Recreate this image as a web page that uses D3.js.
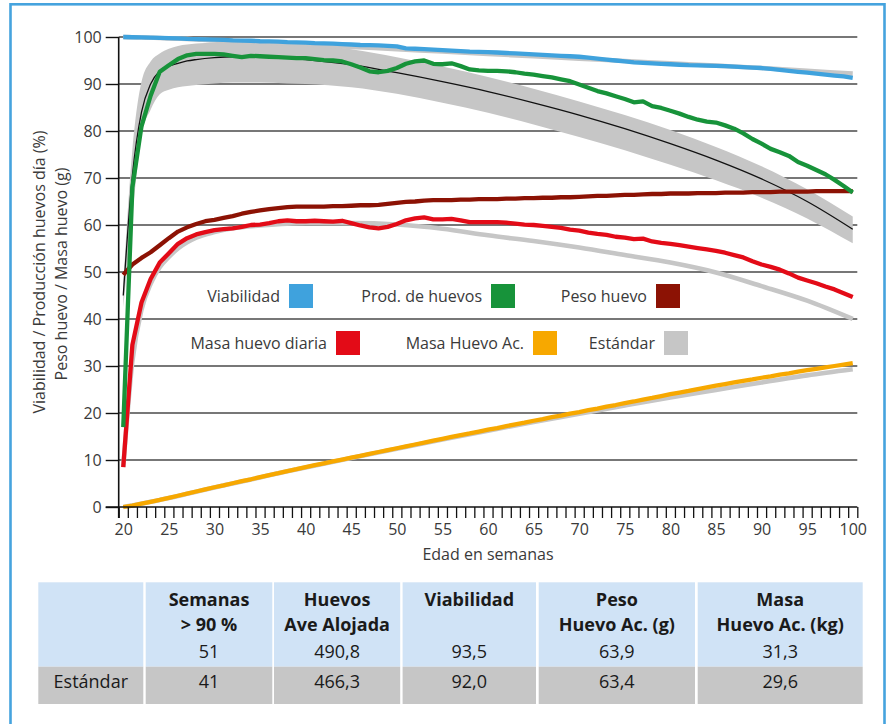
<!DOCTYPE html>
<html>
<head>
<meta charset="utf-8">
<script src="https://cdn.jsdelivr.net/npm/d3@7/dist/d3.min.js"></script>
<style>
  body { margin: 0; background: #fff; }
  svg { display: block; }
  text { font-family: "Open Sans", "Noto Sans", sans-serif; }
</style>
</head>
<body>
<svg id="chart" width="891" height="724"></svg>
<script>
// ---- data: weekly flock results (age in weeks) ----
const weeks = [20,21,22,23,24,25,26,27,28,29,30,31,32,33,34,35,36,37,38,39,40,
  41,42,43,44,45,46,47,48,49,50,51,52,53,54,55,56,57,58,59,60,
  61,62,63,64,65,66,67,68,69,70,71,72,73,74,75,76,77,78,79,80,
  81,82,83,84,85,86,87,88,89,90,91,92,93,94,95,96,97,98,99,100];

const viabilidad = [100.0,99.95,99.9,99.85,99.8,99.75,99.7,99.6,99.55,99.5,99.45,
  99.4,99.3,99.25,99.2,99.1,99.05,99.0,98.9,98.85,98.8,
  98.7,98.65,98.6,98.5,98.4,98.3,98.25,98.2,98.1,98.0,
  97.6,97.5,97.4,97.3,97.2,97.1,97.0,96.9,96.85,96.8,
  96.7,96.6,96.5,96.4,96.3,96.2,96.1,96.0,95.9,95.8,
  95.6,95.4,95.2,95.0,94.8,94.6,94.5,94.4,94.3,94.2,
  94.1,94.0,93.95,93.9,93.85,93.8,93.7,93.6,93.5,93.4,
  93.2,93.0,92.8,92.6,92.4,92.2,92.0,91.8,91.6,91.3];

const prodHuevos = [17.0,68.0,81.0,87.5,92.6,94.0,95.3,96.1,96.4,96.4,96.4,
  96.3,96.0,95.7,96.0,95.9,95.8,95.7,95.6,95.5,95.5,
  95.3,95.1,95.0,94.8,94.2,93.5,92.7,92.5,92.8,93.4,
  94.3,94.8,95.0,94.3,94.2,94.4,93.8,93.1,92.9,92.8,
  92.8,92.7,92.5,92.2,92.0,91.7,91.4,91.0,90.6,89.9,
  89.2,88.5,88.0,87.4,86.8,86.1,86.3,85.3,84.9,84.3,
  83.7,83.0,82.4,82.0,81.8,81.2,80.5,79.5,78.3,77.3,
  76.2,75.5,74.7,73.4,72.6,71.7,70.8,69.6,68.3,66.9];

const pesoHuevo = [49.4,51.6,53.0,54.2,55.7,57.2,58.6,59.5,60.2,60.8,61.1,
  61.5,61.9,62.4,62.8,63.1,63.4,63.6,63.8,63.9,63.9,
  63.9,63.9,64.0,64.0,64.1,64.2,64.2,64.3,64.5,64.7,
  64.9,65.0,65.2,65.3,65.3,65.3,65.4,65.4,65.5,65.5,
  65.5,65.6,65.6,65.7,65.7,65.8,65.8,65.9,65.9,66.0,
  66.1,66.2,66.2,66.3,66.4,66.4,66.5,66.6,66.6,66.7,
  66.7,66.7,66.8,66.8,66.8,66.9,66.9,66.9,67.0,67.0,
  67.0,67.1,67.1,67.1,67.1,67.2,67.2,67.2,67.2,67.2];

const masaDiaria = [8.5,34.5,43.5,48.5,52.0,54.0,56.0,57.2,58.0,58.5,58.9,
  59.1,59.3,59.6,60.0,60.1,60.4,60.8,61.0,60.8,60.8,
  60.9,60.8,60.7,60.9,60.4,59.9,59.5,59.3,59.6,60.2,
  61.0,61.4,61.6,61.2,61.2,61.3,61.0,60.6,60.6,60.6,
  60.6,60.5,60.3,60.1,60.0,59.8,59.6,59.4,59.0,58.8,
  58.4,58.1,57.9,57.5,57.3,57.0,57.1,56.5,56.2,56.0,
  55.7,55.4,55.1,54.8,54.5,54.1,53.6,53.1,52.3,51.6,
  51.1,50.5,49.7,48.8,48.2,47.6,46.9,46.3,45.5,44.7];

const masaAcumulada = [0.0,0.3,0.7,1.1,1.5,1.95,2.4,2.85,3.3,3.75,4.2,
  4.6,5.05,5.5,5.9,6.35,6.8,7.2,7.65,8.05,8.5,
  8.9,9.3,9.7,10.1,10.5,10.9,11.3,11.7,12.1,12.5,
  12.9,13.3,13.7,14.1,14.5,14.9,15.3,15.65,16.05,16.45,
  16.8,17.2,17.6,17.95,18.35,18.7,19.1,19.45,19.85,20.2,
  20.6,20.95,21.35,21.7,22.1,22.45,22.85,23.2,23.6,24.0,
  24.35,24.7,25.1,25.45,25.8,26.15,26.5,26.85,27.15,27.5,
  27.8,28.15,28.45,28.8,29.1,29.4,29.7,30.0,30.3,30.6];

// ---- breed standard (reference curves) ----
const stdWeeks = [20,21,22,23,24,25,26,27,28,30,32,35,38,40,45,50,55,60,65,70,75,80,85,90,95,100];
const stdViabilidad = [100.0,99.95,99.9,99.85,99.8,99.7,99.65,99.6,99.5,99.3,99.2,98.9,98.6,98.4,97.9,97.4,96.9,96.4,95.9,95.4,94.9,94.4,93.9,93.4,92.8,92.2];
const stdProd    = [45.0,70.5,84.0,90.0,92.8,93.8,94.4,94.9,95.2,95.6,95.8,95.8,95.5,95.2,94.1,92.4,90.5,88.4,86.0,83.4,80.5,77.3,73.8,69.8,65.0,59.1];
const stdProdMax = [47.5,76.0,90.5,94.8,96.5,97.5,98.1,98.4,98.6,98.9,99.1,99.1,98.8,98.5,97.4,95.7,93.7,91.5,89.0,86.3,83.4,80.2,76.6,72.5,67.6,61.8];
const stdProdMin = [42.5,62.0,79.0,84.5,87.8,88.8,89.3,89.6,89.8,90.1,90.3,90.3,90.1,90.0,89.3,87.9,86.0,83.9,81.4,78.7,75.9,72.8,69.5,65.8,61.4,56.1];
const stdMasaDiaria = [8.5,31.0,42.0,47.5,51.0,53.2,55.0,56.3,57.3,58.5,59.3,59.9,60.3,60.4,60.4,60.1,59.2,57.8,56.6,55.2,53.6,52.0,49.9,47.0,43.9,40.0];
const stdMasaAcumulada = [0.0,0.3,0.7,1.1,1.5,1.9,2.35,2.8,3.25,4.15,5.0,6.3,7.6,8.4,10.4,12.4,14.35,16.25,18.1,19.85,21.6,23.3,24.9,26.5,28.0,29.3];

// ---- axes ----
const yTicks = [0,10,20,30,40,50,60,70,80,90,100];
const xTickLabels = [20,25,30,35,40,45,50,55,60,65,70,75,80,85,90,95,100];
const yTitle = ["Viabilidad / Producción huevos día (%)", "Peso huevo / Masa huevo (g)"];
const xTitle = "Edad en semanas";

// ---- legend ----
const legendNames  = ["Viabilidad","Prod. de huevos","Peso huevo","Masa huevo diaria","Masa Huevo Ac.","Estándar"];
const legendColors = ["#3fa2dd","#17933a","#8c1204","#e30b17","#f7a800","#c6c6c6"];

// ---- summary table ----
const tableHead = [["",""],["Semanas","> 90 %"],["Huevos","Ave Alojada"],["Viabilidad",""],["Peso","Huevo Ac. (g)"],["Masa","Huevo Ac. (kg)"]];
const tableFlock = ["","51","490,8","93,5","63,9","31,3"];
const tableStd   = ["Estándar","41","466,3","92,0","63,4","29,6"];

// ================= drawing =================
const svg = d3.select("#chart");
const C = { blue: legendColors[0], green: legendColors[1], darkred: legendColors[2],
            red: legendColors[3], orange: legendColors[4], grey: legendColors[5] };

// frame
svg.append("rect").attr("x", 10.5).attr("y", 4.3).attr("width", 874).attr("height", 760)
  .attr("fill", "none").attr("stroke", "#45a3de").attr("stroke-width", 2.6);

const x = d3.scaleLinear().domain([19.5, 100.5]).range([118.7, 857.3]);
const y = d3.scaleLinear().domain([0, 100]).range([507, 37]);

// horizontal grid
svg.append("g").selectAll("line").data(yTicks.filter(d => d > 0)).join("line")
  .attr("x1", x(19.5)).attr("x2", x(100.5))
  .attr("y1", d => y(d)).attr("y2", d => y(d))
  .attr("stroke", "#4a4a4a").attr("stroke-width", 1.3);

// standard production band + centre line
svg.append("path")
  .datum(stdWeeks.map((w, i) => ({ w, lo: stdProdMin[i], hi: stdProdMax[i] })))
  .attr("fill", C.grey)
  .attr("d", d3.area().curve(d3.curveMonotoneX).x(d => x(d.w)).y0(d => y(d.lo)).y1(d => y(d.hi)));

const stdLine = d3.line().curve(d3.curveMonotoneX).x(d => x(d[0])).y(d => y(d[1]));
const line = d3.line().x(d => x(d[0])).y(d => y(d[1]));

function drawStd(values, color, width) {
  svg.append("path").datum(stdWeeks.map((w, i) => [w, values[i]]))
    .attr("fill", "none").attr("stroke", color).attr("stroke-width", width)
    .attr("stroke-linejoin", "round").attr("d", stdLine);
}
function drawSeries(values, color, width) {
  svg.append("path").datum(weeks.map((w, i) => [w, values[i]]))
    .attr("fill", "none").attr("stroke", color).attr("stroke-width", width)
    .attr("stroke-linejoin", "round").attr("d", line);
}

drawStd(stdProd, "#111", 1.3);
drawStd(stdViabilidad, C.grey, 4.6);
drawStd(stdMasaDiaria, C.grey, 4.6);
drawStd(stdMasaAcumulada, C.grey, 4.6);

drawSeries(masaAcumulada, C.orange, 4.3);
drawSeries(masaDiaria, C.red, 4.3);
drawSeries(pesoHuevo, C.darkred, 4.3);
drawSeries(prodHuevos, C.green, 4.3);
drawSeries(viabilidad, C.blue, 4.3);

// y axis
const yAxis = svg.append("g").attr("transform", `translate(${x(19.5)},0)`)
  .call(d3.axisLeft(y).tickValues(yTicks).tickSize(13).tickPadding(4).tickSizeOuter(0));
yAxis.select(".domain").remove();
yAxis.selectAll(".tick line").attr("stroke", "#111").attr("stroke-width", 1.4);
yAxis.selectAll(".tick text").attr("fill", "#3a3a3a").style("font-size", "16px");
svg.append("line").attr("x1", x(19.5)).attr("x2", x(19.5)).attr("y1", y(100)).attr("y2", 518)
  .attr("stroke", "#111").attr("stroke-width", 1.6);

// x axis: ticks on week boundaries, labels on week centres
const boundaries = weeks.map(w => w - 0.5).concat([100.5]);
const xAxis = svg.append("g").attr("transform", `translate(0,${y(0)})`)
  .call(d3.axisBottom(x).tickValues(boundaries).tickFormat("").tickSize(11).tickSizeOuter(0));
xAxis.select(".domain").remove();
xAxis.selectAll(".tick line").attr("stroke", "#111").attr("stroke-width", 1.3);
svg.append("line").attr("x1", 105.7).attr("x2", x(100.5)).attr("y1", y(0)).attr("y2", y(0))
  .attr("stroke", "#111").attr("stroke-width", 1.6);

const xLab = svg.append("g").attr("transform", `translate(0,${y(0)})`)
  .call(d3.axisBottom(x).tickValues(xTickLabels).tickSize(0).tickPadding(16.6));
xLab.select(".domain").remove();
xLab.selectAll(".tick text").attr("fill", "#3a3a3a").style("font-size", "16px");

// axis titles
svg.append("text").attr("transform", "translate(44.5,272) rotate(-90)")
  .attr("text-anchor", "middle").attr("fill", "#3a3a3a").style("font-size", "16px").text(yTitle[0]);
svg.append("text").attr("transform", "translate(66.5,274) rotate(-90)")
  .attr("text-anchor", "middle").attr("fill", "#3a3a3a").style("font-size", "16px").text(yTitle[1]);
svg.append("text").attr("x", 488).attr("y", 560).attr("text-anchor", "middle")
  .attr("fill", "#3a3a3a").style("font-size", "16px").text(xTitle);

// legend (two rows, label to the left of its swatch)
const legendSlots = [[289, 284], [491, 284], [656, 284], [336, 331], [533, 331], [664, 331]];
const lg = svg.append("g").selectAll("g").data(legendNames).join("g")
  .attr("transform", (d, i) => `translate(${legendSlots[i][0]},${legendSlots[i][1]})`);
lg.append("rect").attr("width", 24).attr("height", 24).attr("fill", (d, i) => legendColors[i]);
lg.append("text").attr("x", -9).attr("y", 18.3).attr("text-anchor", "end")
  .attr("fill", "#3a3a3a").style("font-size", "16px").text(d => d);

// summary table
const cols = [[38.3, 143.3], [145.7, 272.3], [274, 400.2], [402.6, 536], [538.7, 695], [697.7, 862.7]];
const tb = svg.append("g");
cols.forEach((c, i) => {
  const cx = (c[0] + c[1]) / 2;
  tb.append("rect").attr("x", c[0]).attr("y", 582.3).attr("width", c[1] - c[0]).attr("height", 84.4).attr("fill", "#d0e3f6");
  tb.append("rect").attr("x", c[0]).attr("y", 666.7).attr("width", c[1] - c[0]).attr("height", 37.3).attr("fill", "#c6c6c6");
  tableHead[i].forEach((t, k) => {
    if (t) tb.append("text").attr("x", cx).attr("y", 606 + k * 25).attr("text-anchor", "middle")
      .attr("fill", "#1a1a1a").style("font-size", "18px").style("font-weight", "700").text(t);
  });
  if (tableFlock[i]) tb.append("text").attr("x", cx).attr("y", 658).attr("text-anchor", "middle")
    .attr("fill", "#1a1a1a").style("font-size", "18px").text(tableFlock[i]);
  tb.append("text").attr("x", cx).attr("y", 687.5).attr("text-anchor", "middle")
    .attr("fill", "#1a1a1a").style("font-size", "18px").text(tableStd[i]);
});
</script>
</body>
</html>
